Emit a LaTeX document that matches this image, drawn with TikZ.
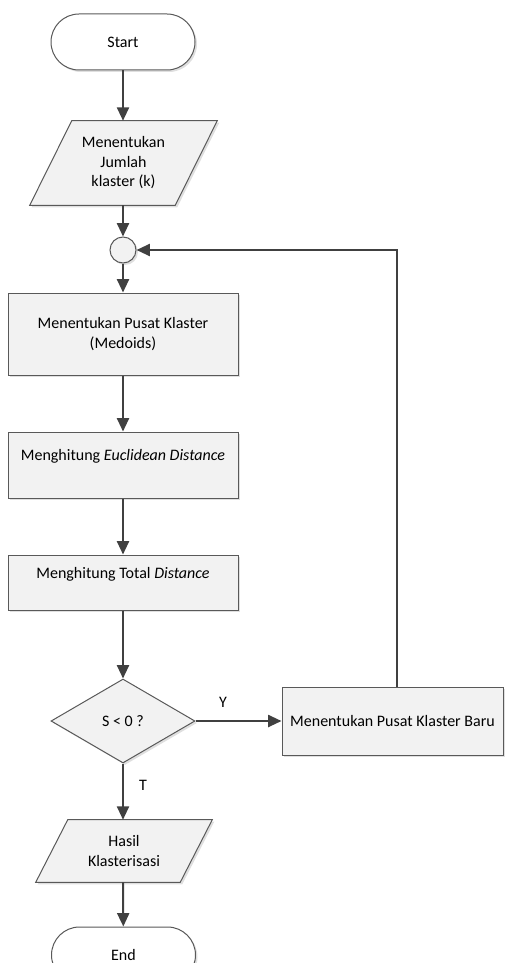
\documentclass[tikz,border=0pt]{standalone}
\usepackage{fontspec}
\setmainfont{Carlito}
\usetikzlibrary{shapes.geometric,shadows,arrows.meta,backgrounds}
\begin{document}
\begin{tikzpicture}[x = 0.75pt, y = -0.75pt, align = center,
        font = \fontsize{12}{14.6}\selectfont,
        box/.style = {draw = black!65, line width = 0.75pt, fill = black!5,
            drop shadow = {shadow xshift = 1.5pt, shadow yshift = -1.5pt, opacity = 0.25}},
        terminal/.style = {box, fill = white, rectangle, rounded corners = 21pt,
            minimum width = 108pt, minimum height = 42pt},
        process/.style = {box, rectangle, minimum width = 172.5pt, inner sep = 0pt},
        data/.style = {rectangle, inner sep = 0pt},
        flow/.style = {draw = black!75, line width = 1.5pt, -{Triangle[length = 10pt, width = 9pt]}}]
        \useasboundingbox (0, 0) rectangle (504, 963);

        \node[terminal] (start) at (123, 42) {Start};
        \node[data, minimum width = 140.25pt, minimum height = 63pt] (jumlah) at (123.5, 163)
            {Menentukan \\ Jumlah \\ klaster (k)};
        \node[box, circle, minimum size = 19.5pt, inner sep = 0pt] (hub) at (123, 250) {};
        \node[process, minimum height = 61.5pt] (pusat) at (123, 334)
            {Menentukan Pusat Klaster \\ (Medoids)};
        \node[process, minimum height = 49.5pt] (euclid) at (123, 465)
            {Menghitung \emph{Euclidean Distance} \\ \mbox{}};
        \node[process, minimum height = 41.25pt] (total) at (123, 582.5)
            {Menghitung Total \emph{Distance} \\ \mbox{}};
        \node[box, diamond, minimum width = 108pt, minimum height = 63pt, inner sep = 0pt]
            (cek) at (123, 721) {S < 0 ?};
        \node[process, minimum width = 165.75pt, minimum height = 51pt] (baru) at (392.5, 721)
            {Menentukan Pusat Klaster Baru};
        \node[data, minimum width = 132pt, minimum height = 46.5pt] (hasil) at (124, 851)
            {Hasil \\ Klasterisasi};
        \node[terminal] (end) at (123.5, 955) {End};
        \coordinate (belok) at (397, 250);

        % parallelograms behind the data nodes
        \begin{scope}[on background layer]
            \draw[box] ([xshift = 31.5pt] jumlah.north west) -- (jumlah.north east)
                -- ([xshift = -31.5pt] jumlah.south east) -- (jumlah.south west) -- cycle;
            \draw[box] ([xshift = 24pt] hasil.north west) -- (hasil.north east)
                -- ([xshift = -24pt] hasil.south east) -- (hasil.south west) -- cycle;
        \end{scope}

        \node (ya) at (223, 702) {Y};
        \node (tidak) at (143, 785) {T};

        \draw[flow] (start) -- (start |- jumlah.north);
        \draw[flow] (start |- jumlah.south) -- (hub);
        \draw[flow] (hub) -- (pusat);
        \draw[flow] (pusat) -- (euclid);
        \draw[flow] (euclid) -- (total);
        \draw[flow] (total) -- (cek);
        \draw[flow] (cek) -- (baru);
        \draw[flow] (cek) -- (cek |- hasil.north);
        \draw[flow] (cek |- hasil.south) -- (end);
        \draw[flow] (baru.north -| belok) -- (belok) -- (hub);
    \end{tikzpicture}
\end{document}
